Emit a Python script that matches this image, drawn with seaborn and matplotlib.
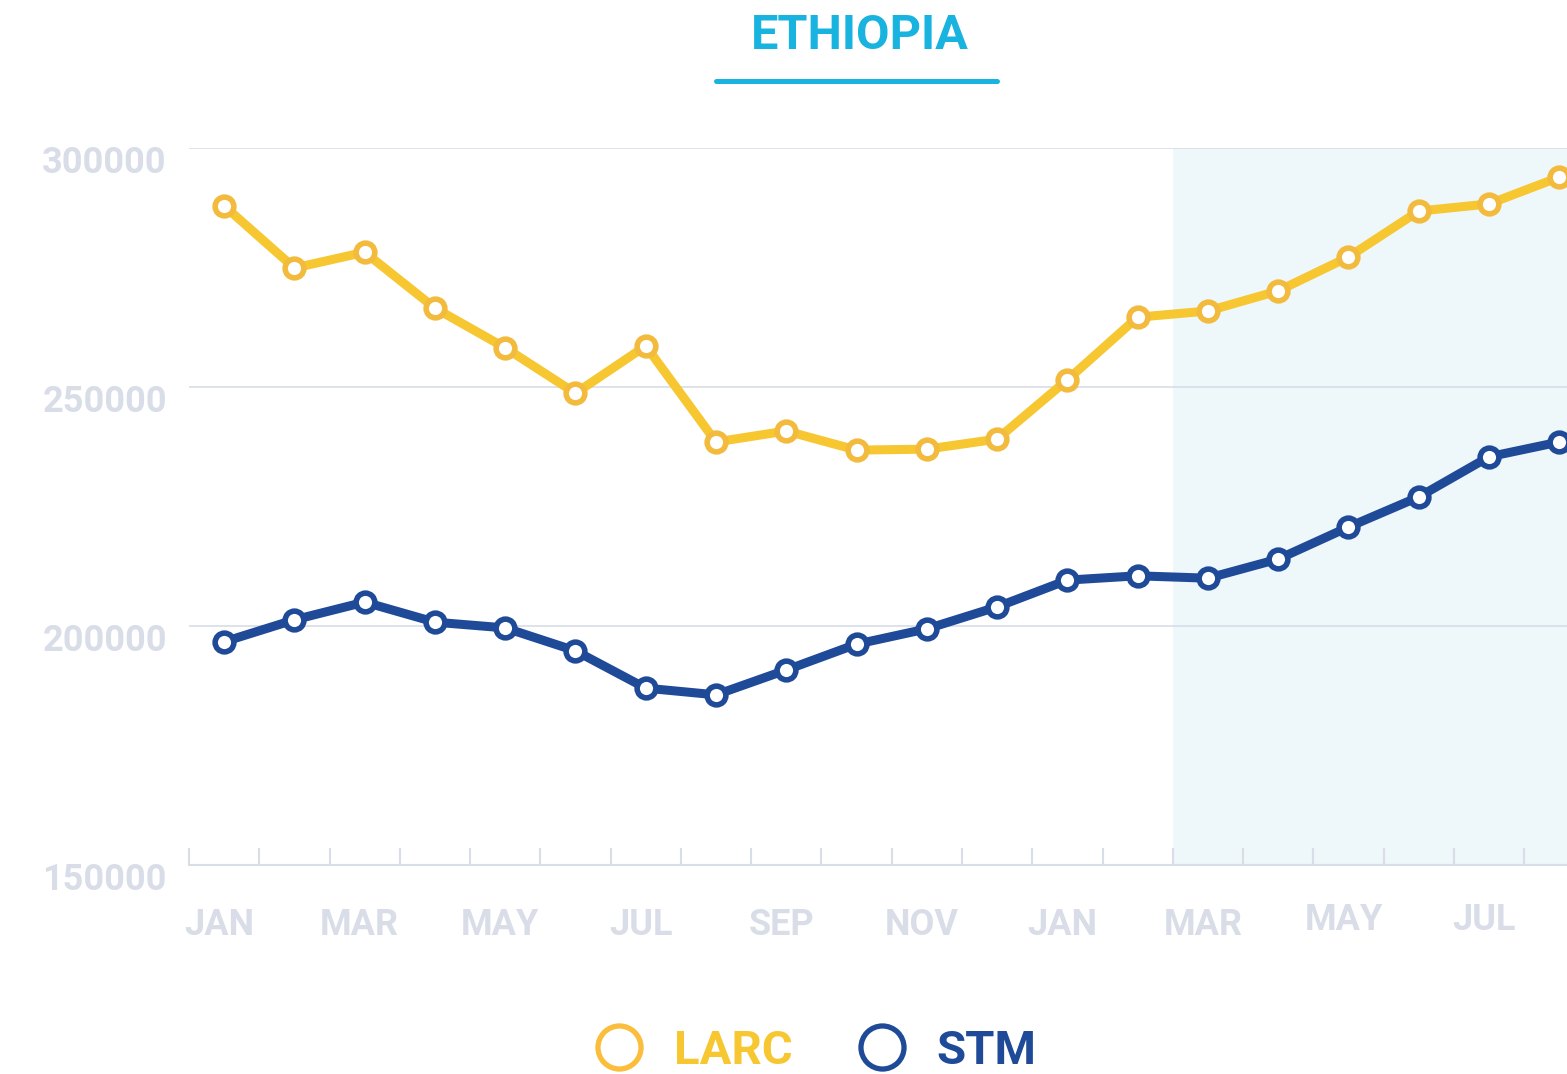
import matplotlib
matplotlib.use("Agg")
import matplotlib.pyplot as plt
import seaborn as sns
from matplotlib.lines import Line2D
from matplotlib.transforms import ScaledTranslation

months = ['JAN', 'FEB', 'MAR', 'APR', 'MAY', 'JUN', 'JUL', 'AUG', 'SEP', 'OCT',
          'NOV', 'DEC', 'JAN', 'FEB', 'MAR', 'APR', 'MAY', 'JUN', 'JUL', 'AUG']
larc = [287900, 274900, 278200, 266500, 258200, 248700, 258600, 238500, 240800, 236800,
        237000, 239100, 251500, 264600, 265900, 270100, 277200, 286800, 288300, 293900]
stm = [196700, 201300, 205000, 200800, 199600, 194800, 187000, 185600, 190800, 196200,
       199400, 204000, 209600, 210500, 210000, 214000, 220700, 227000, 235400, 238500]
yticks = [150000, 200000, 250000, 300000]

LARC_COL = '#f7c731'
LARC_EDGE = '#f3bb3e'
STM_COL = '#1f4a98'
AXIS_COL = '#d8dde8'
TITLE_COL = '#19b3e0'

sns.set_style('white')
plt.rcParams['font.family'] = ['Roboto', 'DejaVu Sans']
plt.rcParams['font.weight'] = 'bold'

fig = plt.figure(figsize=(15.67, 10.74), dpi=100)
ax = fig.add_axes([189 / 1567, 209 / 1074, 1 - 189 / 1567, 717 / 1074])

x = list(range(len(months)))
# shaded (projection) period
ax.axvspan(13.5, 20, color='#eef7fa', zorder=0, lw=0)

for yv in yticks[1:]:
    ax.axhline(yv, color=AXIS_COL, lw=1.2, zorder=1)

sns.lineplot(x=x, y=larc, ax=ax, color=LARC_COL, lw=6.5, marker='o', markersize=13.5,
             markerfacecolor='white', markeredgecolor=LARC_EDGE, markeredgewidth=4,
             zorder=3, clip_on=False)
sns.lineplot(x=x, y=stm, ax=ax, color=STM_COL, lw=6.5, marker='o', markersize=13.5,
             markerfacecolor='white', markeredgecolor=STM_COL, markeredgewidth=4,
             zorder=3, clip_on=False)

ax.set_xlim(-0.5, 19.11)
ax.set_ylim(150000, 300000)
for s in ['top', 'right', 'left']:
    ax.spines[s].set_visible(False)
ax.spines['bottom'].set_color(AXIS_COL)
ax.spines['bottom'].set_linewidth(1.5)

ax.set_xticks(x[::2])
ax.set_xticklabels(months[::2])
ax.set_xticks([i - 0.5 for i in x], minor=True)
ax.tick_params(axis='x', which='major', bottom=True, length=0, pad=30, labelsize=26,
               labelcolor=AXIS_COL)
ax.tick_params(axis='x', which='minor', bottom=True, direction='in', length=12, width=1.5,
               color=AXIS_COL)
ax.set_yticks(yticks)
ax.set_yticklabels([str(v) for v in yticks])
ax.tick_params(axis='y', length=0, pad=16, labelsize=26, labelcolor=AXIS_COL)
for lab in ax.get_yticklabels():
    lab.set_transform(lab.get_transform() + ScaledTranslation(0, -0.11, fig.dpi_scale_trans))
for lab in ax.get_xticklabels():
    lab.set_transform(lab.get_transform() + ScaledTranslation(-0.05, 0, fig.dpi_scale_trans))
for lab in ax.get_xticklabels()[-2:]:
    lab.set_transform(lab.get_transform() + ScaledTranslation(0, 0.05, fig.dpi_scale_trans))
ax.set_xlabel('')
ax.set_ylabel('')

fig.text(860 / 1567, 1 - 36 / 1074, 'ETHIOPIA', color=TITLE_COL, fontsize=35,
         fontweight='bold', ha='center', va='center')
fig.add_artist(Line2D([716 / 1567, 997 / 1567], [1 - 81 / 1074, 1 - 81 / 1074],
                      color=TITLE_COL, lw=3.6, transform=fig.transFigure))

handles = [Line2D([], [], ls='none', marker='o', markersize=31, markerfacecolor='none',
                  markeredgecolor='#fbbd3c', markeredgewidth=3.8),
           Line2D([], [], ls='none', marker='o', markersize=31, markerfacecolor='none',
                  markeredgecolor=STM_COL, markeredgewidth=3.8)]
leg = fig.legend(handles, ['LARC', 'STM'], loc='center', bbox_to_anchor=(816 / 1567, 1 - 1051 / 1074),
                 ncol=2, frameon=False, fontsize=34, handlelength=1.0, handletextpad=0.65,
                 columnspacing=1.4)
for t, c in zip(leg.get_texts(), [LARC_COL, STM_COL]):
    t.set_color(c)
    t.set_fontweight('bold')

fig.savefig('out.png', dpi=100)
